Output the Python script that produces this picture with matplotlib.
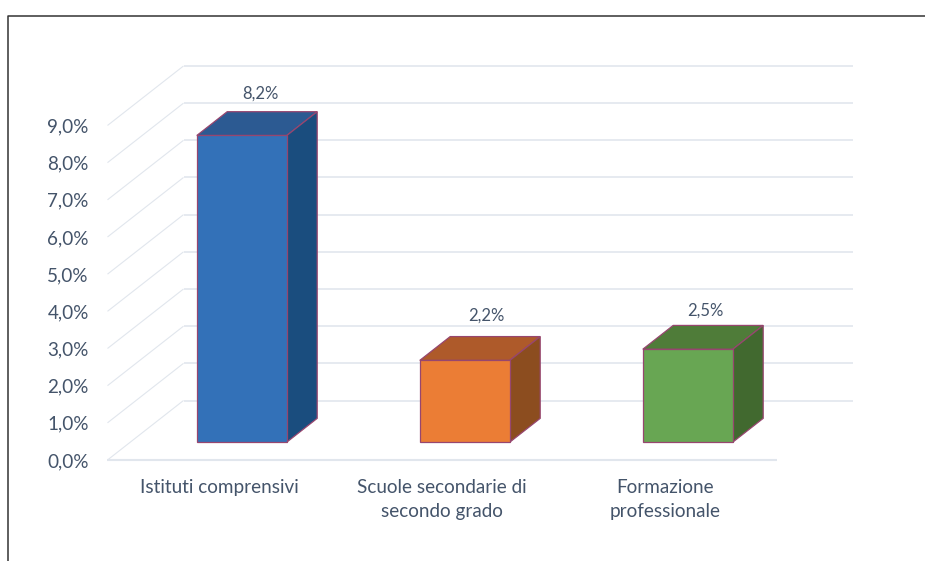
import matplotlib
matplotlib.use("Agg")
import matplotlib.pyplot as plt
from matplotlib.patches import Polygon
from matplotlib.lines import Line2D

categories = ["Istituti comprensivi", "Scuole secondarie di\nsecondo grado", "Formazione\nprofessionale"]
values = [8.25, 2.2, 2.5]
value_labels = ["8,2%", "2,2%", "2,5%"]
y_ticks = [0, 1, 2, 3, 4, 5, 6, 7, 8, 9]
y_tick_labels = ["0,0%", "1,0%", "2,0%", "3,0%", "4,0%", "5,0%", "6,0%", "7,0%", "8,0%", "9,0%"]

front_colors = ["#3371B8", "#EB7D35", "#68A653"]
top_colors = ["#2C5A92", "#AE5A2A", "#4F7C39"]
side_colors = ["#1A4D7E", "#8C4D1F", "#41692F"]
label_offsets = [(3, 18), (6, 21), (2, 15)]

EDGE = "#97466F"
TEXT = "#44546A"
GRID = "#E1E6ED"
W, H = 925, 561
plt.rcParams["font.family"] = ["Lato", "DejaVu Sans"]

fig = plt.figure(figsize=(W / 100, H / 100), dpi=100, facecolor="white")
# plot box in pixels
L, R, T, B = 107.5, 853.5, 66, 460
ax = fig.add_axes([L / W, 1 - B / H, (R - L) / W, (B - T) / H])
px_x, px_y = 223.0, 37.17
ax.set_xlim(-0.5, -0.5 + (R - L) / px_x)
ax.set_ylim(0, (B - T) / px_y)
ax.patch.set_alpha(0)
for s in ax.spines.values():
    s.set_visible(False)

DX, DY = 76 / px_x, 59.5 / px_y  # full floor depth in data units


def proj(x, y, d):
    return (x + d * DX, y + d * DY)


# walls
for v in y_ticks:
    x0, y0 = proj(-0.5, v, 0)
    x1, y1 = proj(-0.5, v, 1)
    x2, y2 = proj(2.5, v, 1)
    ax.plot([x0, x1], [y0, y1], color=GRID, lw=0.8, clip_on=False, zorder=1, solid_capstyle="butt")
    ax.plot([x1, x2], [y1, y2], color=GRID, lw=1.2, clip_on=False, zorder=1, solid_capstyle="butt")
ax.plot([-0.5, 2.5], [0, 0], color=GRID, lw=1.5, clip_on=False, zorder=1, solid_capstyle="butt")

# 3D bars
BW = 90 / px_x
D0, D1 = 0.30, 0.70
for i, v in enumerate(values):
    xl, xr = i - BW / 2, i + BW / 2
    fbl, fbr = proj(xl, 0, D0), proj(xr, 0, D0)
    ftl, ftr = proj(xl, v, D0), proj(xr, v, D0)
    bbr = proj(xr, 0, D1)
    btl, btr = proj(xl, v, D1), proj(xr, v, D1)
    faces = [([ftl, ftr, btr, btl], top_colors[i]),
             ([fbr, bbr, btr, ftr], side_colors[i]),
             ([fbl, fbr, ftr, ftl], front_colors[i])]
    for pts, c in faces:
        ax.add_patch(Polygon(pts, closed=True, facecolor=c, edgecolor=EDGE, lw=0.9,
                             joinstyle="miter", zorder=3, clip_on=False))
    cx = (ftl[0] + btr[0]) / 2
    ax.annotate(value_labels[i], xy=(cx, btr[1]), xytext=(label_offsets[i][0] * 0.72, label_offsets[i][1] * 0.72),
                textcoords="offset points", ha="center", va="center",
                fontsize=12, color=TEXT, zorder=4)

ax.set_yticks(y_ticks)
ax.set_yticklabels(y_tick_labels, fontsize=13.6, color=TEXT)
ax.set_xticks(range(len(categories)))
ax.set_xticklabels(categories, fontsize=13.6, color=TEXT, linespacing=1.52)
ax.tick_params(axis="y", length=0, pad=13.5)
ax.tick_params(axis="x", length=0, pad=13.5)

# outer frame (open to right and bottom)
fig.add_artist(Line2D([8 / W, 8 / W, 1], [0, 1 - 16 / H, 1 - 16 / H], color="#333333", lw=1.1))

fig.savefig("out.png", dpi=100, facecolor="white")
